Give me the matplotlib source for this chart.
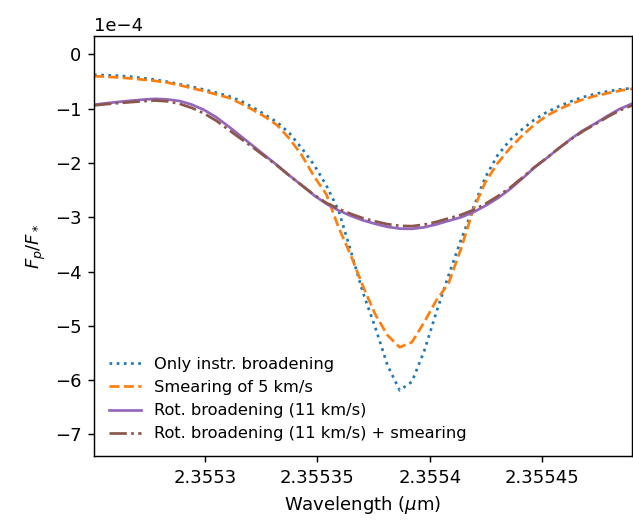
import numpy as np
import matplotlib
matplotlib.use("Agg")
import matplotlib.pyplot as plt

# Wavelength grid (micron)
wl_start = 2.3552507
wl_end = 2.3554898
n_pts = 45
wavelength = np.linspace(wl_start, wl_end, n_pts)

# Series values in units of 1e-4
instr = [-0.374, -0.383, -0.392, -0.409, -0.436, -0.464, -0.503, -0.549, -0.593, -0.648,
         -0.705, -0.766, -0.855, -0.976, -1.112, -1.252, -1.455, -1.731, -2.035, -2.413,
         -2.873, -3.620, -4.392, -5.028, -5.727, -6.190, -6.031, -5.470, -4.751, -4.070,
         -3.425, -2.836, -2.265, -1.860, -1.584, -1.381, -1.206, -1.068, -0.958, -0.866,
         -0.786, -0.727, -0.681, -0.645, -0.621]
smear = [-0.400, -0.411, -0.424, -0.442, -0.464, -0.488, -0.519, -0.567, -0.622, -0.674,
         -0.737, -0.797, -0.902, -1.022, -1.151, -1.308, -1.556, -1.860, -2.247, -2.578,
         -3.186, -3.702, -4.273, -4.788, -5.175, -5.396, -5.304, -4.936, -4.530, -4.217,
         -3.591, -2.873, -2.357, -2.007, -1.731, -1.501, -1.298, -1.133, -1.013, -0.912,
         -0.829, -0.764, -0.715, -0.667, -0.632]
rot = [-0.926, -0.899, -0.875, -0.853, -0.832, -0.818, -0.829, -0.858, -0.924, -1.022,
       -1.157, -1.326, -1.505, -1.685, -1.866, -2.044, -2.234, -2.413, -2.597, -2.753,
       -2.873, -2.974, -3.057, -3.122, -3.177, -3.210, -3.214, -3.186, -3.131, -3.066,
       -3.002, -2.910, -2.790, -2.652, -2.486, -2.293, -2.090, -1.915, -1.731, -1.556,
       -1.400, -1.271, -1.133, -1.004, -0.908]
rot_smear = [-0.939, -0.916, -0.897, -0.879, -0.862, -0.849, -0.864, -0.910, -0.985, -1.087,
             -1.221, -1.387, -1.552, -1.713, -1.884, -2.053, -2.238, -2.413, -2.587, -2.735,
             -2.845, -2.937, -3.017, -3.076, -3.127, -3.158, -3.164, -3.136, -3.085, -3.020,
             -2.956, -2.869, -2.753, -2.615, -2.459, -2.274, -2.081, -1.910, -1.731, -1.565,
             -1.413, -1.286, -1.151, -1.031, -0.939]

labels = ["Only instr. broadening", "Smearing of 5 km/s",
          "Rot. broadening (11 km/s)", "Rot. broadening (11 km/s) + smearing"]

xticks = [2.3553, 2.35535, 2.3554, 2.35545]
xticklabels = ["2.3553", "2.35535", "2.3554", "2.35545"]
yticks = [0, -1, -2, -3, -4, -5, -6, -7]

scale = 1e-4

fig = plt.figure(figsize=(633 / 130, 522 / 130), dpi=130)
ax = fig.add_axes([94 / 633, 66 / 522, 538 / 633, 420 / 522])

ax.plot(wavelength, np.array(instr) * scale, color="C0", ls=":", label=labels[0])
ax.plot(wavelength, np.array(smear) * scale, color="C1", ls="--", label=labels[1])
ax.plot(wavelength, np.array(rot) * scale, color="C4", ls="-", label=labels[2])
ax.plot(wavelength, np.array(rot_smear) * scale, color="C5", ls="-.", label=labels[3])

ax.set_xlim(wl_start, wl_end)
ax.set_ylim(-7.4e-4, 0.34e-4)
ax.set_xticks(xticks)
ax.set_xticklabels(xticklabels)
ax.set_yticks([v * scale for v in yticks])
ax.ticklabel_format(axis="y", style="sci", scilimits=(0, 0))

ax.set_xlabel(r"Wavelength ($\mu$m)")
ax.set_ylabel(r"$F_p/F_*$")
ax.legend(loc="lower left", frameon=False, fontsize=9)

fig.savefig("out.png", dpi=130)
